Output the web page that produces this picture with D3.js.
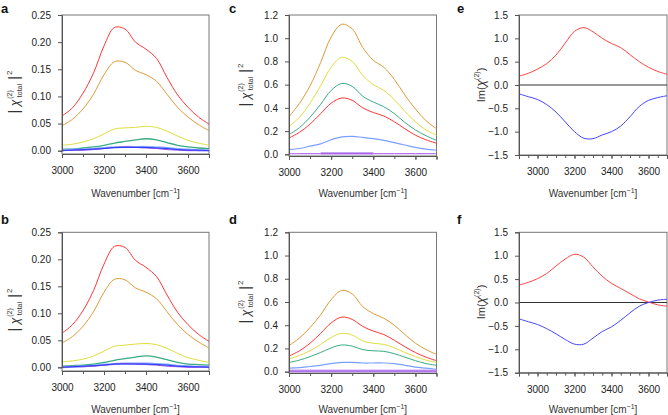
<!DOCTYPE html>
<html><head><meta charset="utf-8">
<script src="https://cdn.jsdelivr.net/npm/d3@7"></script>
<style>
body{margin:0;background:#fff;}
svg text{font-family:"Liberation Sans",Arial,sans-serif;}
</style></head>
<body><svg id="c" width="668" height="415"></svg>
<script>
// ---------- data ----------
const wnAC = [3000,3050,3100,3150,3200,3250,3300,3350,3400,3450,3500,3550,3600,3650,3700];
const wnEF = [2900,2950,3000,3050,3100,3150,3200,3250,3300,3350,3400,3450,3500,3550,3600,3650,3700];

const aRed    = [0.064,0.079,0.106,0.143,0.193,0.227,0.224,0.200,0.187,0.170,0.135,0.103,0.080,0.062,0.049];
const aOrange = [0.046,0.058,0.077,0.104,0.140,0.164,0.163,0.148,0.140,0.128,0.104,0.080,0.062,0.048,0.037];
const aYellow = [0.010,0.012,0.016,0.022,0.031,0.040,0.042,0.043,0.045,0.043,0.036,0.027,0.019,0.014,0.010];
const aGreen  = [0.003,0.003,0.005,0.007,0.010,0.014,0.017,0.020,0.022,0.020,0.015,0.010,0.007,0.005,0.004];
const aLBlue  = [0.001,0.002,0.002,0.003,0.005,0.006,0.007,0.007,0.007,0.006,0.005,0.003,0.002,0.001,0.001];
const aPurple = [0.000,0.001,0.001,0.002,0.004,0.006,0.007,0.006,0.005,0.004,0.002,0.001,0.000,0.000,0.000];
const aBlue   = [0.000,0.001,0.002,0.003,0.004,0.006,0.006,0.006,0.006,0.005,0.004,0.002,0.001,0.001,0.000];

const bRed    = [0.063,0.079,0.105,0.142,0.191,0.224,0.222,0.198,0.185,0.168,0.134,0.102,0.079,0.061,0.048];
const bOrange = [0.045,0.057,0.076,0.103,0.139,0.163,0.162,0.147,0.139,0.127,0.103,0.079,0.061,0.047,0.036];
const bYellow = [0.010,0.012,0.015,0.021,0.030,0.039,0.041,0.043,0.044,0.042,0.035,0.026,0.018,0.013,0.009];
const bGreen  = [0.002,0.003,0.004,0.006,0.009,0.013,0.016,0.019,0.021,0.019,0.014,0.009,0.006,0.005,0.004];
const bLBlue  = [0.000,0.001,0.002,0.003,0.005,0.006,0.007,0.007,0.007,0.006,0.005,0.003,0.002,0.001,0.001];
const bPurple = [0.000,0.001,0.001,0.002,0.004,0.006,0.007,0.006,0.005,0.004,0.002,0.001,0.000,0.000,0.000];
const bBlue   = [0.000,0.001,0.002,0.003,0.004,0.006,0.006,0.006,0.006,0.005,0.004,0.002,0.001,0.001,0.000];

const cOrange = [0.324,0.440,0.590,0.790,1.010,1.120,1.080,0.920,0.810,0.750,0.645,0.510,0.390,0.290,0.220];
const cYellow = [0.240,0.320,0.440,0.590,0.750,0.835,0.800,0.680,0.600,0.550,0.470,0.370,0.280,0.210,0.165];
const cGreen  = [0.170,0.230,0.320,0.430,0.550,0.610,0.585,0.500,0.450,0.410,0.350,0.275,0.210,0.160,0.120];
const cRed    = [0.140,0.190,0.260,0.350,0.440,0.485,0.465,0.400,0.360,0.330,0.280,0.220,0.165,0.125,0.095];
const cBlue   = [0.040,0.050,0.070,0.090,0.125,0.150,0.155,0.145,0.135,0.120,0.100,0.080,0.060,0.045,0.035];
const cPurple = [0.005,0.005,0.005,0.005,0.005,0.005,0.005,0.005,0.005,0.005,0.005,0.005,0.005,0.005,0.005];
const cLavWn  = [3150,3200,3250,3300,3350,3400];
const cLav    = [0.010,0.010,0.010,0.010,0.010,0.010];

const dOrange = [0.225,0.290,0.380,0.490,0.620,0.700,0.670,0.560,0.500,0.460,0.400,0.320,0.245,0.190,0.150];
const dRed    = [0.135,0.180,0.245,0.330,0.420,0.470,0.450,0.390,0.350,0.320,0.270,0.215,0.165,0.125,0.095];
const dYellow = [0.110,0.140,0.180,0.235,0.295,0.330,0.315,0.265,0.245,0.235,0.205,0.165,0.130,0.100,0.080];
const dGreen  = [0.080,0.100,0.130,0.165,0.205,0.230,0.220,0.190,0.180,0.175,0.155,0.125,0.095,0.070,0.055];
const dBlue   = [0.030,0.035,0.045,0.055,0.070,0.080,0.080,0.075,0.075,0.075,0.070,0.055,0.040,0.030,0.020];
const dPurple = [0.005,0.005,0.005,0.005,0.005,0.005,0.005,0.005,0.005,0.005,0.005,0.005,0.005,0.005,0.005];

const eRed  = [0.19,0.25,0.34,0.46,0.64,0.90,1.15,1.23,1.14,1.00,0.89,0.80,0.65,0.50,0.38,0.29,0.23];
const eBlue = [-0.19,-0.25,-0.31,-0.42,-0.58,-0.79,-1.00,-1.14,-1.15,-1.07,-1.00,-0.88,-0.68,-0.46,-0.33,-0.27,-0.23];
const fRed  = [0.37,0.43,0.51,0.62,0.78,0.93,1.03,0.97,0.76,0.56,0.41,0.30,0.19,0.08,0.01,-0.05,-0.08];
const fBlue = [-0.35,-0.41,-0.47,-0.56,-0.67,-0.79,-0.89,-0.89,-0.76,-0.62,-0.52,-0.38,-0.22,-0.08,0.00,0.05,0.07];

const xTicksAC = [3000,3200,3400,3600];
const xTicksEF = [3000,3200,3400,3600];
const yTicksAB = [0,0.05,0.10,0.15,0.20,0.25];
const yTicksCD = [0,0.2,0.4,0.6,0.8,1.0,1.2];
const yTicksEF = [-1.5,-1.0,-0.5,0,0.5,1.0,1.5];

const COL = {red:"#ff3535", orange:"#dd9a36", yellow:"#dede40", green:"#3aab80",
             lblue:"#7aa0ff", blue:"#2a3cff", purple:"#a050e8", lav:"#c9a6f2", eRed:"#ff4444", eBlue:"#4545ff"};

// ---------- drawing ----------
const svg = d3.select("#c");
const AX = "#555";

function panel(o){
  const g = svg.append("g");
  const x = d3.scaleLinear().domain(o.xd).range(o.xr);
  const y = d3.scaleLinear().domain(o.yd).range(o.yr);
  const left = o.xr[0], right = o.xr[1], top = o.top, bottom = o.bottom;
  g.append("rect").attr("x",left).attr("y",top).attr("width",right-left).attr("height",bottom-top)
    .attr("fill","none").attr("stroke","#777").attr("stroke-width",1);
  if (o.zero) g.append("line").attr("x1",left).attr("x2",right).attr("y1",y(0)).attr("y2",y(0))
      .attr("stroke","#333").attr("stroke-width",1);
  const line = d3.line().x(d=>x(d[0])).y(d=>y(d[1])).curve(d3.curveCatmullRom.alpha(0.5));
  o.series.forEach(s=>{
    const xs = s.x || o.xs;
    g.append("path").attr("d",line(s.v.map((v,i)=>[xs[i],v]))).attr("fill","none").attr("stroke",s.c)
      .attr("stroke-width",s.w||1);
  });
  const xa = d3.axisBottom(x).tickValues(o.xt).tickFormat(d3.format("d")).tickSize(4).tickPadding(9);
  const gx = g.append("g").attr("transform",`translate(0,${bottom})`).call(xa);
  const minor = d3.axisBottom(x).tickValues(o.xminor).tickFormat("").tickSize(3);
  g.append("g").attr("transform",`translate(0,${bottom})`).call(minor).call(s=>s.select(".domain").remove());
  const ya = d3.axisLeft(y).tickValues(o.yt).tickFormat(d3.format(o.yf)).tickSize(4).tickPadding(7);
  const gy = g.append("g").attr("transform",`translate(${left},0)`).call(ya);
  [gx,gy].forEach(a=>{
    a.selectAll("text").attr("font-size",10).attr("fill","#222");
    a.select(".domain").attr("stroke",AX);
  });
  g.selectAll(".tick line").attr("stroke",AX);
  // x title
  const xt = g.append("text").attr("x",(left+right)/2).attr("y",o.xtitleY).attr("text-anchor","middle")
    .attr("font-size",10).attr("fill","#333");
  xt.append("tspan").text("Wavenumber [cm");
  xt.append("tspan").text("\u22121").attr("font-size",7).attr("dy",-4);
  xt.append("tspan").text("]").attr("dy",4);
  // y title
  const yt = g.append("text").attr("transform",`translate(${o.ytitleX},${o.ytitleY}) rotate(-90)`)
    .attr("text-anchor","middle").attr("font-size",11).attr("fill","#333");
  if (o.ytype==="abs"){
    yt.append("tspan").text("|").attr("font-size",15);
    yt.append("tspan").text(" \u03c7").attr("font-style","italic").attr("font-size",12);
    yt.append("tspan").text("(2)").attr("font-size",7).attr("dy",-7).attr("dx",1);
    yt.append("tspan").text("total").attr("font-size",7).attr("dy",10).attr("dx",-7);
    yt.append("tspan").text(" |").attr("font-size",15).attr("dy",-3);
    yt.append("tspan").text("2").attr("font-size",8).attr("dy",-7).attr("dx",1);
  } else {
    yt.append("tspan").text("Im(");
    yt.append("tspan").text("\u03c7").attr("font-style","italic").attr("font-size",12);
    yt.append("tspan").text("(2)").attr("font-size",7).attr("dy",-6);
    yt.append("tspan").text(")").attr("dy",6);
  }
  svg.append("text").attr("x",o.lx).attr("y",o.ly).text(o.letter)
    .attr("font-size",13).attr("font-weight","bold").attr("fill","#111");
}

const minorAC = d3.range(3000,3701,100);
const minorEF = d3.range(2900,3701,50);

panel({letter:"a",lx:1,ly:13,xs:wnAC,xd:[3000,3700],xr:[62,209],yd:[0,0.25],yr:[150.7,15],top:15,bottom:154,
  xt:xTicksAC,xminor:minorAC,yt:yTicksAB,yf:".2f",xtitleY:197,ytitleX:19,ytitleY:92,ytype:"abs",
  series:[{v:aRed,c:COL.red},{v:aOrange,c:COL.orange},{v:aYellow,c:COL.yellow},{v:aGreen,c:COL.green,w:1.3},
    {v:aLBlue,c:COL.lblue,w:2},{v:aPurple,c:COL.purple},{v:aBlue,c:COL.blue}]});
panel({letter:"b",lx:1,ly:224,xs:wnAC,xd:[3000,3700],xr:[62,209],yd:[0,0.25],yr:[367.3,232.3],top:232.3,bottom:371,
  xt:xTicksAC,xminor:minorAC,yt:yTicksAB,yf:".2f",xtitleY:413,ytitleX:19,ytitleY:310,ytype:"abs",
  series:[{v:bRed,c:COL.red},{v:bOrange,c:COL.orange},{v:bYellow,c:COL.yellow},{v:bGreen,c:COL.green,w:1.3},
    {v:bLBlue,c:COL.lblue,w:2},{v:bPurple,c:COL.purple},{v:bBlue,c:COL.blue}]});
panel({letter:"c",lx:229,ly:13,xs:wnAC,xd:[3000,3700],xr:[289,436.5],yd:[0,1.2],yr:[154.3,15],top:15,bottom:156,
  xt:xTicksAC,xminor:minorAC,yt:yTicksCD,yf:".1f",xtitleY:197,ytitleX:250,ytitleY:85,ytype:"abs",
  series:[{v:cOrange,c:COL.orange},{v:cYellow,c:COL.yellow},{v:cGreen,c:COL.green},{v:cRed,c:COL.red},
    {v:cBlue,c:COL.lblue,w:1.2},{v:cLav,x:cLavWn,c:COL.lav,w:2.5},{v:cPurple,c:COL.purple}]});
panel({letter:"d",lx:229,ly:224,xs:wnAC,xd:[3000,3700],xr:[289,436.5],yd:[0,1.2],yr:[371.7,232.3],top:232.3,bottom:373,
  xt:xTicksAC,xminor:minorAC,yt:yTicksCD,yf:".1f",xtitleY:413,ytitleX:250,ytitleY:302,ytype:"abs",
  series:[{v:dOrange,c:COL.orange},{v:dRed,c:COL.red},{v:dYellow,c:COL.yellow},{v:dGreen,c:COL.green},
    {v:dBlue,c:COL.lblue,w:1.2},{v:dPurple,c:COL.lav,w:3},{v:dPurple,c:COL.purple}]});
panel({letter:"e",lx:457,ly:13,xs:wnEF,xd:[2900,3700],xr:[519,667],yd:[-1.5,1.5],yr:[155,15],top:15,bottom:155,
  xt:xTicksEF,xminor:minorEF,yt:yTicksEF,yf:".1f",xtitleY:197,ytitleX:485,ytitleY:85,ytype:"im",zero:true,
  series:[{v:eRed,c:COL.eRed},{v:eBlue,c:COL.eBlue}]});
panel({letter:"f",lx:457,ly:224,xs:wnEF,xd:[2900,3700],xr:[519,667],yd:[-1.5,1.5],yr:[372.7,232.3],top:232.3,bottom:372.7,
  xt:xTicksEF,xminor:minorEF,yt:yTicksEF,yf:".1f",xtitleY:413,ytitleX:485,ytitleY:302,ytype:"im",zero:true,
  series:[{v:fRed,c:COL.eRed},{v:fBlue,c:COL.eBlue}]});
</script></body></html>
